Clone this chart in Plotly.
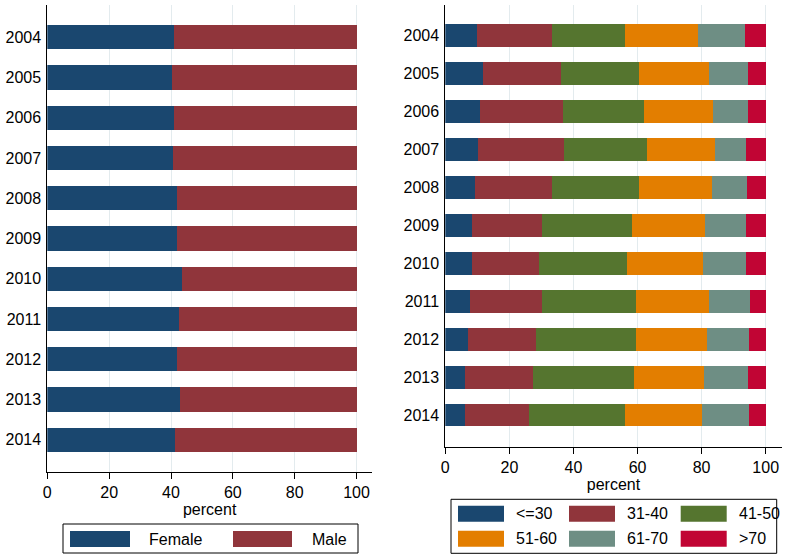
import plotly.graph_objects as go

years = ['2004', '2005', '2006', '2007', '2008', '2009', '2010', '2011', '2012', '2013', '2014']
female = [40.9, 40.3, 40.9, 40.6, 41.9, 41.9, 43.5, 42.5, 41.9, 42.8, 41.2]
male = [59.1, 59.7, 59.1, 59.4, 58.1, 58.1, 56.5, 57.5, 58.1, 57.2, 58.8]

age_le30 = [9.9, 11.7, 10.8, 10.2, 9.3, 8.3, 8.3, 7.7, 7.1, 6.1, 6.1]
age_31_40 = [23.4, 24.4, 25.9, 26.8, 24.0, 21.8, 20.9, 22.4, 21.2, 21.2, 20.0]
age_41_50 = [22.8, 24.3, 25.3, 25.9, 27.1, 28.1, 27.5, 29.4, 31.2, 31.5, 29.9]
age_51_60 = [22.7, 21.8, 21.7, 21.2, 22.7, 23.0, 23.7, 22.7, 22.1, 21.9, 24.0]
age_61_70 = [14.7, 12.2, 10.7, 9.7, 11.0, 12.6, 13.4, 12.8, 13.1, 13.7, 14.7]
age_gt70 = [6.5, 5.6, 5.6, 6.2, 5.9, 6.2, 6.2, 5.0, 5.3, 5.6, 5.3]

sex_names = ['Female', 'Male']
sex_values = [female, male]
age_names = ['<=30', '31-40', '41-50', '51-60', '61-70', '>70']
age_values = [age_le30, age_31_40, age_41_50, age_51_60, age_61_70, age_gt70]
x_ticks = [0, 20, 40, 60, 80, 100]

colors = ['#1a476f', '#90353b', '#55752f', '#e37e00', '#6e8e84', '#c10534']
FONT = 'Liberation Sans, Arial, sans-serif'
W, H = 787, 559

fig = go.Figure()
for i, (n, v) in enumerate(zip(sex_names, sex_values)):
    fig.add_trace(go.Bar(y=years, x=v, name=n, orientation='h', marker=dict(color=colors[i], line=dict(width=0)),
                         xaxis='x', yaxis='y', showlegend=False))
for i, (n, v) in enumerate(zip(age_names, age_values)):
    fig.add_trace(go.Bar(y=years, x=v, name=n, orientation='h', marker=dict(color=colors[i], line=dict(width=0)),
                         xaxis='x2', yaxis='y2', showlegend=False))

def px(x):
    return x / W

def py(y):
    return 1 - y / H

xcommon = dict(range=[0, 105], tickvals=x_ticks, showgrid=True, gridcolor='#e3ebee', gridwidth=1,
               showline=True, linecolor='black', linewidth=1, ticks='outside', ticklen=6, tickcolor='black',
               zeroline=False, automargin=False, tickfont=dict(size=16, color='black', family=FONT),
               title=dict(text='percent', font=dict(size=16, color='black', family=FONT), standoff=0))
ycommon = dict(type='category', categoryorder='array', categoryarray=years, showgrid=False,
               showline=True, linecolor='black', linewidth=1, ticks='', zeroline=False, automargin=False,
               tickfont=dict(size=16, color='black', family=FONT), ticklabelstandoff=2)

fig.update_layout(
    width=W, height=H, margin=dict(l=0, r=0, t=0, b=0, autoexpand=False),
    paper_bgcolor='white', plot_bgcolor='white', barmode='stack', bargap=0.4,
    font=dict(family=FONT, size=16, color='black'),
    xaxis=dict(domain=[px(47.3), px(372)], anchor='y', **xcommon),
    yaxis=dict(domain=[py(472), py(5)], anchor='x', range=[10.8, -0.8], **ycommon),
    xaxis2=dict(domain=[px(445.3), px(781.7)], anchor='y2', **xcommon),
    yaxis2=dict(domain=[py(447), py(5)], anchor='x2', range=[10.84, -0.8], **ycommon),
)

shapes = []
annotations = []
# Left legend
shapes.append(dict(type='rect', xref='paper', yref='paper', x0=px(63), x1=px(358), y0=py(553), y1=py(524),
                   line=dict(color='black', width=1), fillcolor='white'))
left_items = [(70, 130, 147), (233, 292, 310)]
for i, (s0, s1, tx) in enumerate(left_items):
    shapes.append(dict(type='rect', xref='paper', yref='paper', x0=px(s0), x1=px(s1), y0=py(547), y1=py(531),
                       line=dict(width=0), fillcolor=colors[i]))
    annotations.append(dict(xref='paper', yref='paper', x=px(tx), y=py(539), text=sex_names[i], showarrow=False,
                            xanchor='left', yanchor='middle', font=dict(size=16, color='black', family=FONT)))
# Right legend
shapes.append(dict(type='rect', xref='paper', yref='paper', x0=px(451), x1=px(776.7), y0=py(553.3), y1=py(499.3),
                   line=dict(color='black', width=1), fillcolor='white'))
col_x = [(458, 504, 514), (569, 615, 625), (680.7, 726.7, 736.7)]
row_y = [(505.7, 521.7), (530.7, 546.7)]
for i, n in enumerate(age_names):
    r, c = divmod(i, 3)
    s0, s1, tx = col_x[c]
    y0, y1 = row_y[r]
    shapes.append(dict(type='rect', xref='paper', yref='paper', x0=px(s0), x1=px(s1), y0=py(y1), y1=py(y0),
                       line=dict(width=0), fillcolor=colors[i]))
    annotations.append(dict(xref='paper', yref='paper', x=px(tx), y=py((y0 + y1) / 2), text=n, showarrow=False,
                            xanchor='left', yanchor='middle', font=dict(size=16, color='black', family=FONT)))

fig.update_layout(shapes=shapes, annotations=annotations)
fig.write_html('out.html', config={'displayModeBar': False},
               post_script="document.body.style.margin='0';document.body.style.overflow='hidden';")
